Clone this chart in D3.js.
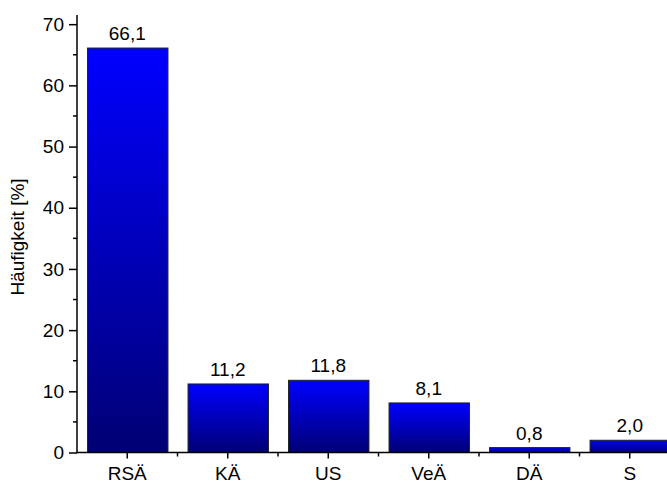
<!DOCTYPE html>
<html>
<head>
<meta charset="utf-8">
<script src="https://cdn.jsdelivr.net/npm/d3@7"></script>
<style>
  html, body { margin: 0; padding: 0; background: #fff; }
  svg { display: block; font-family: Arial, "Liberation Sans", sans-serif; }
</style>
</head>
<body>
<svg id="chart" width="667" height="484"></svg>
<script>
// Categories and their relative frequencies in percent
const categories = ["RSÄ", "KÄ", "US", "VeÄ", "DÄ", "S"];
const values = [66.1, 11.2, 11.8, 8.1, 0.8, 2.0];
const yTicks = [0, 10, 20, 30, 40, 50, 60, 70];
const yMinorTicks = [5, 15, 25, 35, 45, 55, 65];
const yLabel = "Häufigkeit [%]";

(function draw() {
  const svg = d3.select("#chart");
  const plotLeft = 77, plotBottom = 452.5, plotTop = 15;
  const bandStep = 100.5;
  const fontSize = 19;

  const x = d3.scaleBand()
    .domain(categories)
    .range([plotLeft, plotLeft + bandStep * categories.length])
    .paddingInner(0.2)
    .paddingOuter(0.1);

  const y = d3.scaleLinear()
    .domain([0, 71.5])
    .range([plotBottom, plotTop]);

  // vertical gradient per bar: bright blue at the top, navy at the base
  const defs = svg.append("defs");
  const grad = defs.append("linearGradient")
    .attr("id", "barFill")
    .attr("x1", 0).attr("y1", 0).attr("x2", 0).attr("y2", 1);
  grad.append("stop").attr("offset", "0%").attr("stop-color", "#0000ff");
  grad.append("stop").attr("offset", "100%").attr("stop-color", "#000074");

  const fmt = v => v.toFixed(1).replace(".", ",");

  // bars
  svg.append("g").selectAll("rect")
    .data(values)
    .join("rect")
    .attr("x", (d, i) => x(categories[i]) + 0.5)
    .attr("y", d => y(d))
    .attr("width", x.bandwidth())
    .attr("height", d => y(0) - y(d))
    .attr("fill", "url(#barFill)")
    .attr("stroke", "#222")
    .attr("stroke-width", 1);

  // value labels
  svg.append("g").selectAll("text")
    .data(values)
    .join("text")
    .attr("x", (d, i) => x(categories[i]) + x.bandwidth() / 2)
    .attr("y", d => y(d) - 8)
    .attr("text-anchor", "middle")
    .attr("font-size", fontSize)
    .attr("fill", "#000")
    .text(fmt);

  // y axis
  const yAxis = d3.axisLeft(y).tickValues(yTicks).tickSize(8).tickPadding(5).tickFormat(d3.format("d"));
  const gy = svg.append("g").attr("transform", `translate(${plotLeft},0)`).call(yAxis);
  gy.select(".domain").remove();
  gy.selectAll(".tick line").attr("stroke", "#000").attr("stroke-width", 1.5);
  gy.selectAll(".tick text").attr("font-size", fontSize).attr("fill", "#000");
  svg.append("g").selectAll("line")
    .data(yMinorTicks)
    .join("line")
    .attr("x1", plotLeft - 4).attr("x2", plotLeft)
    .attr("y1", d => y(d)).attr("y2", d => y(d))
    .attr("stroke", "#000").attr("stroke-width", 1.5);
  svg.append("line")
    .attr("x1", plotLeft).attr("x2", plotLeft)
    .attr("y1", plotTop).attr("y2", plotBottom + 0.75)
    .attr("stroke", "#000").attr("stroke-width", 1.5);

  // x axis
  const xAxis = d3.axisBottom(x).tickSize(6);
  const gx = svg.append("g").attr("transform", `translate(0,${plotBottom})`).call(xAxis);
  gx.select(".domain").remove();
  gx.selectAll(".tick line").attr("stroke", "#000").attr("stroke-width", 1.5);
  gx.selectAll(".tick text")
    .attr("font-size", fontSize).attr("fill", "#000")
    .attr("y", 27).attr("dy", 0);
  svg.append("g").selectAll("line")
    .data(categories.slice(1))
    .join("line")
    .attr("x1", d => x(d) - x.step() * x.paddingInner() / 2)
    .attr("x2", d => x(d) - x.step() * x.paddingInner() / 2)
    .attr("y1", plotBottom).attr("y2", plotBottom + 4)
    .attr("stroke", "#000").attr("stroke-width", 1.5);
  svg.append("line")
    .attr("x1", plotLeft).attr("x2", 667)
    .attr("y1", plotBottom).attr("y2", plotBottom)
    .attr("stroke", "#000").attr("stroke-width", 1.5);

  // y axis title
  svg.append("text")
    .attr("transform", `translate(24,237) rotate(-90)`)
    .attr("text-anchor", "middle")
    .attr("font-size", fontSize)
    .attr("fill", "#000")
    .text(yLabel);
})();
</script>
</body>
</html>
